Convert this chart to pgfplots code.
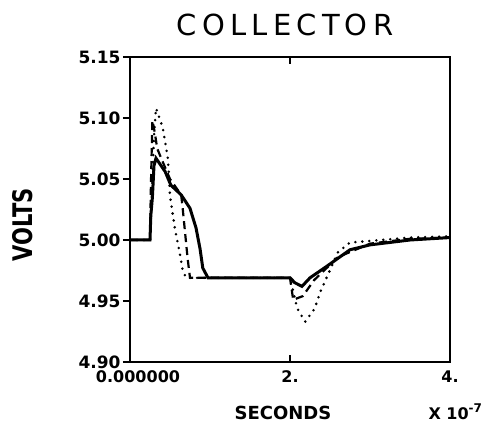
\documentclass[border=0pt]{standalone}
\usepackage{fontspec}
\setmainfont{DejaVu Sans}
\newfontfamily\titlefont[LetterSpace=18]{DejaVu Sans}
\usepackage{pgfplots}
\pgfplotsset{compat=1.18}

% solid, dashed and dotted runs of the collector voltage (x in units of 1e-7 s)
\pgfplotstableread{
x y
0 5.000
0.25 5.000
0.26 5.020
0.28 5.035
0.30 5.061
0.325 5.067
0.44 5.056
0.51 5.045
0.64 5.037
0.75 5.026
0.825 5.010
0.875 4.993
0.91 4.977
0.975 4.969
2.00 4.969
2.06 4.965
2.15 4.962
2.25 4.969
2.45 4.978
2.6 4.985
2.75 4.992
3.0 4.996
3.5 5.000
4.0 5.002
}\solid
\pgfplotstableread{
x y
0 5.000
0.25 5.000
0.26 5.040
0.27 5.070
0.28 5.098
0.31 5.088
0.34 5.075
0.39 5.067
0.50 5.050
0.64 5.037
0.66 5.025
0.69 5.005
0.72 4.985
0.75 4.969
2.00 4.969
2.04 4.951
2.16 4.954
2.30 4.967
2.6 4.986
3.0 4.997
3.5 5.001
4.0 5.002
}\dashedrun
\pgfplotstableread{
x y
0 5.000
0.25 5.000
0.28 5.050
0.30 5.085
0.325 5.108
0.41 5.092
0.44 5.080
0.475 5.066
0.50 5.036
0.56 5.010
0.625 4.988
0.66 4.975
0.70 4.969
2.00 4.969
2.09 4.944
2.19 4.933
2.31 4.944
2.375 4.957
2.6 4.990
2.75 4.998
2.96 4.999
3.5 5.002
4.0 5.003
}\dottedrun

\begin{document}
\begin{tikzpicture}
\path[use as bounding box] (-130pt,-66pt) rectangle (353pt,362pt);
\begin{axis}[
  scale only axis,
  width=320pt, height=305pt,
  xmin=0, xmax=4, ymin=4.90, ymax=5.15,
  axis line style={line width=2.8pt},
  xtick={0,2,4},
  xticklabels={\hspace{16pt}0.000000,2.,4.},
  ytick={4.90,4.95,5.00,5.05,5.10,5.15},
  yticklabels={4.90,4.95,5.00,5.05,5.10,5.15},
  ytick pos=left,
  tick style={line width=2pt, black},
  xtick align=inside,
  ytick align=outside,
  major tick length=7pt,
  xticklabel style={font=\fontsize{16}{18}\selectfont\bfseries, yshift=-5pt},
  yticklabel style={font=\fontsize{17}{19}\selectfont\bfseries, xshift=1pt},
  clip=false,
]
\addplot[black, line width=3pt] table {\solid};
\addplot[black, line width=2.2pt, dash pattern=on 8pt off 5pt] table {\dashedrun};
\addplot[black, line width=2.8pt, line cap=round, dash pattern=on 0pt off 7pt] table {\dottedrun};
\end{axis}
\node at (155pt,337pt) {\titlefont\fontsize{29}{32}\selectfont COLLECTOR};
\node[rotate=90] at (-107pt,137pt) {\scalebox{0.78}[1]{\fontsize{27}{30}\selectfont\bfseries VOLTS}};
\node at (153pt,-51pt) {\fontsize{18}{20}\selectfont\bfseries SECONDS};
\node[anchor=west] at (295pt,-50pt) {\fontsize{16}{18}\selectfont\bfseries X 10\raisebox{7pt}{\fontsize{12}{14}\selectfont -7}};
\end{tikzpicture}
\end{document}
